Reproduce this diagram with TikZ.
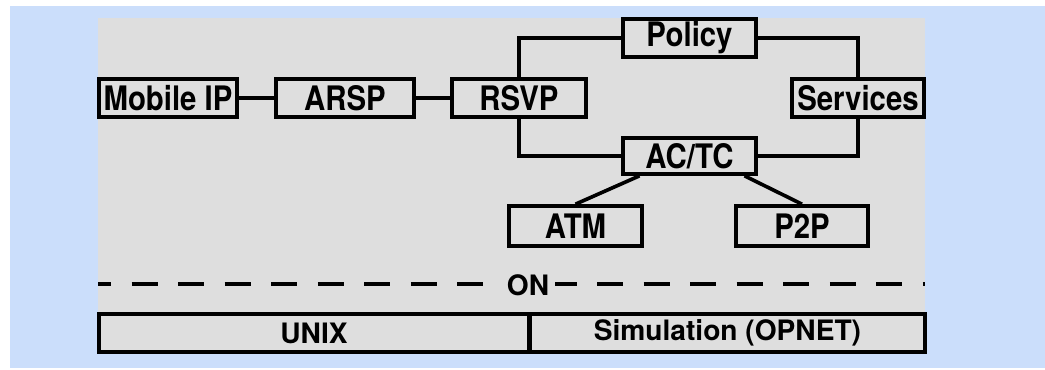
\documentclass[tikz,border=0pt]{standalone}
\usepackage{fontspec}
\setmainfont{TeX Gyre Heros}
\newfontfamily\boxfont{TeX Gyre Heros}[FakeStretch=0.87]
\usetikzlibrary{calc}
\definecolor{skyblue}{RGB}{203,222,251}
\definecolor{panelgray}{RGB}{222,222,222}
\begin{document}
\begin{tikzpicture}[x=0.025cm,y=-0.025cm,line join=miter,
		modbox/.style={draw,line width=2.6pt,inner sep=0pt,minimum height=0.95cm,font=\boxfont\bfseries\fontsize{24}{26}\selectfont},
		barbox/.style={draw,line width=2.4pt,inner sep=0pt,minimum height=0.95cm,font=\bfseries\fontsize{20}{22}\selectfont},
		link/.style={line width=2.6pt}]
				\useasboundingbox (0,0) rectangle (1045,369);
				\fill[skyblue] (10,6) rectangle (1045,368);
				\fill[panelgray] (98,18) rectangle (925,353);
				\node[modbox,minimum width=3.45cm] (mip) at (168,98) {Mobile IP};
				\node[modbox,minimum width=3.45cm] (arsp) at (345,98) {ARSP};
				\node[modbox,minimum width=3.35cm] (rsvp) at (519,98) {RSVP};
				\node[modbox,minimum width=3.325cm] (policy) at (689.5,38) {Policy};
				\node[modbox,minimum width=3.3cm] (serv) at (858,98) {Services};
				\node[modbox,minimum width=3.325cm,minimum height=0.9cm] (actc) at (689.5,156) {AC/TC};
				\node[modbox,minimum width=3.325cm,minimum height=1cm] (atm) at (575.5,226) {ATM};
				\node[modbox,minimum width=3.3cm,minimum height=1cm] (p2p) at (802,226) {P2P};
				\draw[link] (mip) -- (arsp);
				\draw[link] (arsp) -- (rsvp);
				\draw[link] (rsvp.north) |- (policy.west);
				\draw[link] (policy.east) -| (serv.north);
				\draw[link] (rsvp.south) |- (actc.west);
				\draw[link] (actc.east) -| (serv.south);
				\draw[link] ($(actc.south)+(-50,0)$) -- (atm.north);
				\draw[link] ($(actc.south)+(55,0)$) -- (p2p.north);
				%dashed separator
				\coordinate (dl) at (98,284);
				\coordinate (dr) at (925,284);
				\draw[line width=3pt,dash pattern=on 18.5pt off 14.6pt,dash phase=9.2pt] (dl) -- (dr);
				\node[fill=panelgray,inner xsep=4pt,inner ysep=1pt,font=\bfseries\fontsize{20}{22}\selectfont] (on) at (528,285) {ON};
				\node[barbox,minimum width=10.75cm] (unix) at (314,333) {UNIX};
				\node[barbox,minimum width=9.875cm] (sim) at (727.5,333) {Simulation (OPNET)};
		\end{tikzpicture}
\end{document}
